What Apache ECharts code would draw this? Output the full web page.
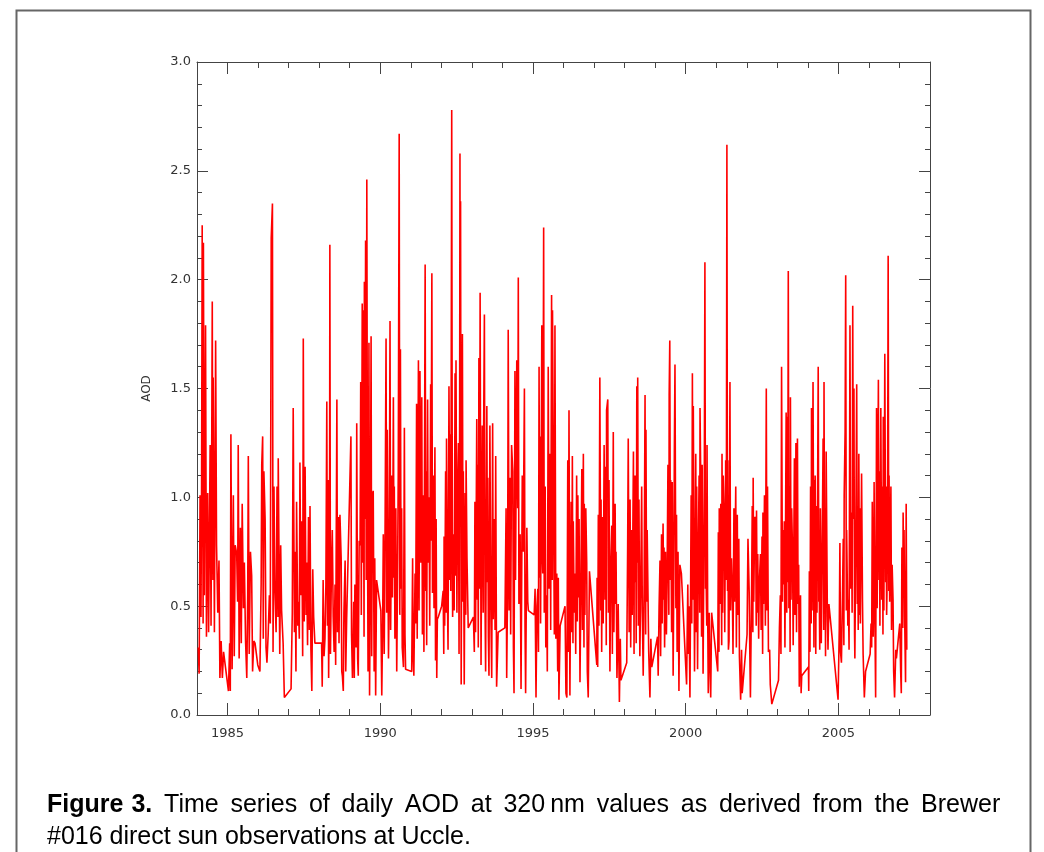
<!DOCTYPE html>
<html>
<head>
<meta charset="utf-8">
<script src="https://cdn.jsdelivr.net/npm/echarts@6/dist/echarts.min.js"></script>
<style>html,body{margin:0;padding:0;background:#fff;}#chart{width:1044px;height:852px;}</style>
</head>
<body>
<div id="chart"></div>
<script>
// Daily AOD at 320 nm, Brewer #016, Uccle: [decimal year, AOD]
const obs1984_1987 = [
[1984.04,0.31],[1984.07,0.19],[1984.10,1.01],[1984.13,0.45],[1984.15,1.05],[1984.17,2.25],[1984.20,0.42],[1984.21,2.17],[1984.24,0.55],[1984.28,1.79],[1984.31,0.36],[1984.35,1.02],[1984.38,0.38],[1984.43,1.24],[1984.46,0.41],[1984.50,1.90],[1984.52,0.62],[1984.53,1.55],[1984.57,0.38],[1984.61,1.72],[1984.64,0.78],[1984.68,0.47],[1984.72,0.71],[1984.75,0.17],[1984.79,0.34],[1984.83,0.17],[1984.87,0.29],
[1985.03,0.11],[1985.07,0.33],[1985.09,0.11],[1985.11,1.29],[1985.15,0.21],[1985.19,1.01],[1985.22,0.27],[1985.25,0.78],[1985.30,0.74],[1985.33,0.52],[1985.35,1.24],[1985.38,0.26],[1985.42,0.86],[1985.45,0.33],[1985.48,0.97],[1985.52,0.49],[1985.55,0.7],[1985.59,0.34],[1985.63,0.17],[1985.66,0.55],[1985.68,1.19],[1985.71,0.28],[1985.75,0.75],[1985.79,0.64],[1985.82,0.2],[1985.86,0.34],[1985.90,0.33],[1985.99,0.23],
[1986.06,0.2],[1986.10,0.6],[1986.12,1.15],[1986.15,1.28],[1986.17,0.35],[1986.19,1.12],[1986.23,0.9],[1986.26,0.31],[1986.29,0.24],[1986.33,0.37],[1986.37,0.55],[1986.40,0.42],[1986.43,2.19],[1986.47,2.35],[1986.49,0.29],[1986.52,1.05],[1986.55,0.58],[1986.59,0.38],[1986.62,1.05],[1986.65,0.45],[1986.66,1.18],[1986.71,0.28],[1986.74,0.78],[1986.77,0.48],[1986.82,0.33],[1986.86,0.08],
[1987.08,0.12],[1987.12,0.47],[1987.15,1.41],[1987.19,0.38],[1987.21,0.75],[1987.24,0.2],[1987.26,0.98],[1987.30,0.41],[1987.32,0.52],[1987.35,0.35],[1987.37,1.16],[1987.40,0.55],[1987.43,0.89],[1987.46,0.27],[1987.48,1.73],[1987.51,0.43],[1987.54,1.14],[1987.57,0.46],[1987.59,0.7],[1987.62,0.32],[1987.65,0.91],[1987.68,0.39],[1987.70,0.96],[1987.73,0.3],[1987.76,0.11],[1987.79,0.67],[1987.82,0.45],[1987.86,0.33]
];
const obs1988_1991 = [
[1988.08,0.33],[1988.10,0.13],[1988.13,0.62],[1988.16,0.27],[1988.19,0.35],[1988.22,0.6],[1988.25,1.44],[1988.27,0.41],[1988.29,1.08],[1988.31,0.17],[1988.34,0.7],[1988.35,2.16],[1988.37,0.28],[1988.40,0.65],[1988.43,0.85],[1988.46,0.45],[1988.49,0.29],[1988.52,0.6],[1988.54,0.23],[1988.58,1.45],[1988.60,0.38],[1988.63,0.91],[1988.65,0.33],[1988.68,0.92],[1988.72,0.72],[1988.74,0.2],[1988.76,0.18],[1988.79,0.11],[1988.81,0.47],[1988.85,0.71],[1988.87,0.2],[1988.90,0.44],
[1989.04,1.28],[1989.06,0.37],[1989.09,0.17],[1989.13,0.52],[1989.15,0.17],[1989.17,0.6],[1989.21,0.31],[1989.23,1.34],[1989.26,0.26],[1989.28,0.18],[1989.31,0.8],[1989.34,0.78],[1989.36,1.53],[1989.38,0.46],[1989.41,1.89],[1989.43,0.7],[1989.44,1.86],[1989.47,0.36],[1989.48,1.99],[1989.50,0.9],[1989.52,2.18],[1989.54,0.62],[1989.56,2.46],[1989.58,1.0],[1989.60,0.2],[1989.63,1.71],[1989.65,0.09],[1989.67,0.53],[1989.70,1.74],[1989.72,0.27],[1989.74,1.0],[1989.77,1.03],[1989.80,0.2],[1989.82,0.72],[1989.85,0.09],[1989.88,0.62],
[1990.02,0.48],[1990.05,0.09],[1990.08,0.44],[1990.10,0.83],[1990.13,0.28],[1990.16,0.91],[1990.19,1.73],[1990.21,0.47],[1990.23,1.31],[1990.27,0.26],[1990.29,0.52],[1990.32,1.81],[1990.34,0.39],[1990.38,1.1],[1990.40,0.54],[1990.43,1.46],[1990.45,0.63],[1990.46,1.05],[1990.48,0.35],[1990.51,0.95],[1990.54,0.2],[1990.57,0.7],[1990.59,1.12],[1990.62,2.67],[1990.64,0.46],[1990.66,1.68],[1990.68,0.58],[1990.70,0.95],[1990.72,0.31],[1990.76,0.22],[1990.79,1.32],[1990.81,0.37],[1990.83,0.21],
[1991.03,0.2],[1991.06,0.72],[1991.08,0.27],[1991.10,0.18],[1991.14,0.65],[1991.16,0.42],[1991.19,1.43],[1991.21,0.35],[1991.25,1.63],[1991.27,0.48],[1991.30,1.58],[1991.33,0.7],[1991.36,1.46],[1991.38,0.37],[1991.41,1.01],[1991.43,0.29],[1991.47,2.07],[1991.49,0.57],[1991.50,1.12],[1991.52,0.32],[1991.55,1.45],[1991.57,0.7],[1991.60,1.0],[1991.62,0.41],[1991.65,1.52],[1991.66,0.8],[1991.69,2.03],[1991.71,0.56],[1991.74,1.1],[1991.76,0.49],[1991.79,1.23],[1991.81,0.25],[1991.83,0.9],[1991.85,0.17],[1991.87,0.44],[1991.90,0.45]
];
const obs1992_1995 = [
[1992.01,0.5],[1992.06,0.57],[1992.08,0.28],[1992.09,0.82],[1992.11,0.41],[1992.14,1.12],[1992.16,0.47],[1992.17,1.27],[1992.20,0.53],[1992.22,0.3],[1992.25,1.51],[1992.28,0.62],[1992.29,1.29],[1992.31,0.57],[1992.34,2.78],[1992.36,0.8],[1992.37,0.45],[1992.40,0.83],[1992.42,0.48],[1992.45,1.57],[1992.47,0.64],[1992.48,1.63],[1992.51,0.47],[1992.53,1.0],[1992.56,1.25],[1992.58,0.28],[1992.60,1.4],[1992.61,2.58],[1992.62,0.9],[1992.63,2.36],[1992.65,0.14],[1992.69,1.75],[1992.71,0.52],[1992.72,1.12],[1992.75,0.14],[1992.78,1.02],[1992.80,0.46],[1992.81,1.17],[1992.84,0.72],[1992.88,0.4],
[1993.05,0.45],[1993.08,0.29],[1993.10,0.98],[1993.12,0.38],[1993.16,1.36],[1993.18,0.53],[1993.19,1.15],[1993.21,0.31],[1993.23,1.64],[1993.25,0.58],[1993.27,1.94],[1993.30,0.23],[1993.32,0.8],[1993.34,1.33],[1993.37,0.47],[1993.38,1.2],[1993.41,1.84],[1993.43,0.52],[1993.45,0.2],[1993.49,1.42],[1993.51,0.61],[1993.52,1.09],[1993.54,0.36],[1993.56,0.18],[1993.59,1.33],[1993.62,0.49],[1993.65,0.17],[1993.68,1.34],[1993.70,0.44],[1993.73,0.9],[1993.76,0.39],[1993.78,1.19],[1993.81,0.13],[1993.86,0.38],
[1994.08,0.4],[1994.12,0.95],[1994.14,0.17],[1994.17,0.6],[1994.19,1.77],[1994.22,0.48],[1994.25,1.09],[1994.27,0.37],[1994.30,1.24],[1994.34,1.12],[1994.36,0.31],[1994.38,0.1],[1994.41,1.58],[1994.43,0.62],[1994.47,1.63],[1994.50,0.95],[1994.52,2.01],[1994.54,0.51],[1994.58,0.83],[1994.61,0.12],[1994.63,0.6],[1994.65,1.1],[1994.68,0.75],[1994.72,1.5],[1994.74,0.41],[1994.76,0.1],[1994.80,0.86],[1994.83,0.52],[1994.85,0.48],
[1995.04,0.46],[1995.07,0.58],[1995.10,0.08],[1995.13,0.5],[1995.16,0.58],[1995.18,0.29],[1995.20,1.6],[1995.22,0.63],[1995.23,1.28],[1995.25,0.42],[1995.29,1.79],[1995.31,0.7],[1995.32,0.65],[1995.35,2.24],[1995.37,0.47],[1995.40,1.05],[1995.42,0.31],[1995.45,0.55],[1995.47,0.2],[1995.50,1.6],[1995.53,0.58],[1995.56,1.2],[1995.58,0.39],[1995.61,1.93],[1995.63,0.62],[1995.64,1.86],[1995.68,0.82],[1995.70,0.37],[1995.72,1.79],[1995.75,0.35],[1995.78,0.65],[1995.81,0.2],[1995.83,0.63],[1995.85,0.07],[1995.89,0.41]
];
const obs1996_1999 = [
[1996.05,0.5],[1996.08,0.1],[1996.11,0.08],[1996.14,1.17],[1996.16,0.29],[1996.18,1.4],[1996.20,0.52],[1996.21,0.09],[1996.25,0.98],[1996.27,0.38],[1996.29,1.19],[1996.31,0.33],[1996.32,0.89],[1996.35,0.47],[1996.38,0.65],[1996.40,0.28],[1996.43,1.1],[1996.45,0.43],[1996.47,1.01],[1996.49,0.54],[1996.51,0.9],[1996.54,0.15],[1996.57,0.6],[1996.60,1.13],[1996.62,0.39],[1996.65,1.2],[1996.67,0.31],[1996.68,0.97],[1996.70,0.46],[1996.73,0.95],[1996.76,0.7],[1996.78,0.2],[1996.81,0.08],[1996.85,0.66],
[1997.09,0.23],[1997.10,0.63],[1997.12,0.22],[1997.14,0.92],[1997.16,0.41],[1997.19,1.55],[1997.22,0.48],[1997.23,0.99],[1997.25,0.29],[1997.27,0.91],[1997.30,0.42],[1997.33,1.24],[1997.36,0.53],[1997.38,1.14],[1997.40,0.32],[1997.41,1.4],[1997.45,1.45],[1997.47,0.47],[1997.49,1.08],[1997.52,0.2],[1997.55,0.7],[1997.58,0.87],[1997.60,0.28],[1997.63,1.3],[1997.65,0.38],[1997.69,0.97],[1997.71,0.51],[1997.72,0.75],[1997.75,0.17],[1997.78,0.4],[1997.79,0.51],[1997.83,0.06],[1997.86,0.35],[1997.88,0.16],
[1998.07,0.24],[1998.10,0.77],[1998.12,1.27],[1998.15,0.38],[1998.18,0.99],[1998.20,0.31],[1998.23,0.85],[1998.25,0.46],[1998.29,1.21],[1998.31,0.28],[1998.32,1.1],[1998.34,0.61],[1998.36,1.1],[1998.38,0.33],[1998.40,1.51],[1998.42,0.7],[1998.43,1.55],[1998.45,0.41],[1998.47,0.99],[1998.50,0.27],[1998.53,0.6],[1998.56,1.05],[1998.58,0.48],[1998.61,0.18],[1998.64,0.6],[1998.67,1.47],[1998.69,0.37],[1998.70,1.31],[1998.72,0.52],[1998.74,0.85],[1998.77,0.85],[1998.79,0.29],[1998.83,0.08],[1998.86,0.35],[1998.89,0.22],
[1999.08,0.36],[1999.10,0.18],[1999.13,0.5],[1999.16,0.71],[1999.18,0.27],[1999.21,0.83],[1999.23,0.42],[1999.26,0.88],[1999.28,0.53],[1999.29,0.77],[1999.31,0.31],[1999.34,0.75],[1999.37,0.37],[1999.39,0.6],[1999.42,1.15],[1999.45,0.46],[1999.46,1.47],[1999.48,1.72],[1999.50,0.62],[1999.51,1.08],[1999.54,0.38],[1999.56,1.07],[1999.59,0.18],[1999.61,0.6],[1999.63,1.21],[1999.65,1.61],[1999.68,0.49],[1999.70,0.92],[1999.72,0.29],[1999.75,0.75],[1999.78,0.11],[1999.81,0.69],[1999.86,0.65]
];
const obs2000_2003 = [
[2000.03,0.14],[2000.07,0.6],[2000.09,0.28],[2000.11,0.5],[2000.14,0.08],[2000.18,1.01],[2000.20,0.42],[2000.22,1.57],[2000.24,0.53],[2000.25,1.42],[2000.29,0.2],[2000.31,0.6],[2000.33,1.2],[2000.35,0.38],[2000.36,1.05],[2000.39,0.21],[2000.41,0.7],[2000.44,1.1],[2000.46,0.47],[2000.47,1.41],[2000.50,1.0],[2000.52,0.36],[2000.54,1.15],[2000.57,0.19],[2000.61,1.05],[2000.63,2.08],[2000.65,0.58],[2000.66,0.73],[2000.69,0.41],[2000.70,1.24],[2000.72,0.49],[2000.74,0.1],[2000.77,0.47],[2000.80,0.2],[2000.82,0.08],[2000.85,0.47],
[2001.05,0.2],[2001.07,0.84],[2001.09,0.29],[2001.10,0.95],[2001.12,0.51],[2001.15,0.97],[2001.18,0.32],[2001.19,1.2],[2001.21,0.47],[2001.23,1.1],[2001.26,0.91],[2001.28,0.38],[2001.31,1.17],[2001.33,0.62],[2001.35,2.62],[2001.37,0.57],[2001.38,1.17],[2001.40,0.3],[2001.42,0.34],[2001.45,1.53],[2001.47,0.48],[2001.50,0.72],[2001.53,0.55],[2001.55,0.28],[2001.58,0.95],[2001.60,0.52],[2001.64,1.05],[2001.66,0.31],[2001.69,0.92],[2001.71,0.46],[2001.74,0.81],[2001.76,0.27],[2001.80,0.07],[2001.83,0.3],[2001.85,0.1],
[2002.01,0.37],[2002.04,0.81],[2002.08,0.56],[2002.10,0.29],[2002.12,0.08],[2002.16,0.6],[2002.18,0.96],[2002.20,0.38],[2002.21,1.09],[2002.23,0.52],[2002.26,0.91],[2002.29,0.9],[2002.31,0.41],[2002.32,0.94],[2002.34,0.47],[2002.36,0.74],[2002.39,0.35],[2002.41,0.6],[2002.45,0.74],[2002.47,0.39],[2002.50,0.82],[2002.52,0.28],[2002.53,0.93],[2002.55,0.51],[2002.58,1.01],[2002.61,0.41],[2002.64,1.5],[2002.66,0.48],[2002.68,1.05],[2002.71,0.29],[2002.75,0.3],[2002.77,0.14],[2002.82,0.05],
[2003.04,0.16],[2003.07,0.4],[2003.10,0.55],[2003.12,0.28],[2003.14,1.6],[2003.17,0.52],[2003.18,0.85],[2003.21,0.6],[2003.23,0.89],[2003.25,0.31],[2003.29,1.39],[2003.31,0.47],[2003.32,1.37],[2003.34,0.61],[2003.36,2.04],[2003.38,0.49],[2003.40,1.05],[2003.42,0.29],[2003.43,1.46],[2003.45,0.53],[2003.47,0.95],[2003.50,0.75],[2003.52,0.32],[2003.56,1.18],[2003.58,0.46],[2003.61,1.25],[2003.63,0.38],[2003.66,1.27],[2003.68,0.51],[2003.70,0.69],[2003.72,0.13],[2003.76,0.55],[2003.78,0.1],[2003.80,0.18]
];
const obs2004_2007 = [
[2004.02,0.22],[2004.03,0.11],[2004.05,0.66],[2004.07,0.29],[2004.09,1.05],[2004.11,0.42],[2004.12,1.41],[2004.14,0.48],[2004.17,1.53],[2004.20,0.31],[2004.21,1.08],[2004.23,0.53],[2004.24,1.1],[2004.26,0.28],[2004.28,0.96],[2004.30,0.47],[2004.34,1.6],[2004.36,0.52],[2004.37,0.65],[2004.39,0.3],[2004.41,0.95],[2004.44,0.33],[2004.48,0.93],[2004.50,1.27],[2004.52,0.39],[2004.53,1.53],[2004.55,0.49],[2004.56,0.87],[2004.58,0.27],[2004.60,1.21],[2004.64,0.45],[2004.66,0.3],[2004.69,0.51],
[2004.99,0.07],[2005.03,0.4],[2005.05,0.79],[2005.07,0.29],[2005.10,0.24],[2005.14,0.6],[2005.16,0.81],[2005.18,0.32],[2005.19,1.01],[2005.22,1.3],[2005.24,2.02],[2005.26,0.48],[2005.27,0.85],[2005.31,0.41],[2005.33,0.53],[2005.35,0.3],[2005.38,1.79],[2005.40,0.58],[2005.43,0.93],[2005.45,0.47],[2005.47,1.88],[2005.49,0.9],[2005.51,1.5],[2005.53,0.37],[2005.54,0.26],[2005.57,0.8],[2005.60,1.52],[2005.62,0.51],[2005.63,0.95],[2005.65,0.39],[2005.67,1.2],[2005.69,0.46],[2005.70,0.95],[2005.72,0.42],[2005.76,1.11],[2005.79,0.52],[2005.81,0.28],[2005.85,0.08],[2005.89,0.2],
[2006.04,0.28],[2006.07,0.42],[2006.09,0.31],[2006.11,0.98],[2006.14,0.36],[2006.16,0.6],[2006.17,1.07],[2006.20,0.38],[2006.22,0.08],[2006.25,1.41],[2006.27,0.49],[2006.31,1.54],[2006.33,0.62],[2006.34,1.12],[2006.36,0.41],[2006.39,1.41],[2006.42,0.53],[2006.44,1.05],[2006.46,0.37],[2006.47,1.37],[2006.49,0.48],[2006.52,1.66],[2006.55,0.61],[2006.56,1.05],[2006.58,0.46],[2006.59,0.55],[2006.61,0.9],[2006.63,2.11],[2006.65,0.57],[2006.66,1.1],[2006.68,0.52],[2006.72,1.05],[2006.74,0.39],[2006.76,0.69],[2006.79,0.53],[2006.81,0.2],[2006.84,0.08],[2006.88,0.3],[2006.90,0.26],
[2007.01,0.42],[2007.04,0.2],[2007.06,0.1],[2007.08,0.77],[2007.11,0.4],[2007.12,0.93],[2007.14,0.6],[2007.15,0.85],[2007.17,0.45],[2007.20,0.15],[2007.22,0.97],[2007.24,0.3]
];

const yearCategories = [];
for (let y = 1984; y <= 2008; y++) yearCategories.push(String(y));
const majorYearStep = 5;
const captionBoldWords = ['Figure', '3.'];
const captionLine1Words = ['Time', 'series', 'of', 'daily', 'AOD', 'at', '320\u2009nm', 'values', 'as', 'derived', 'from', 'the', 'Brewer'];
const captionLine2 = '#016 direct sun observations at Uccle.';
const yAxisName = 'AOD';

const aodSeries = [].concat(obs1984_1987, obs1988_1991, obs1992_1995, obs1996_1999, obs2000_2003, obs2004_2007);

// justified first caption line: words joined by wider space tokens
const captionText =
  captionBoldWords.map(w => '{b|' + w + '}').join('{bs| }') + '{s| }' +
  captionLine1Words.join('{s| }') + '\n' + captionLine2;

const axisColor = '#444';
const labelFont = { fontFamily: 'DejaVu Sans', fontSize: 13, color: '#333' };
const isMajor = (i, v) => (+v) % majorYearStep === 0;

function valueX(pos, showLabels) {
  return {
    type: 'value', position: pos, min: 1984, max: 2008, interval: 1,
    axisLine: { show: true, lineStyle: { color: axisColor, width: 1 } },
    axisTick: { show: true, inside: true, length: 6, lineStyle: { color: axisColor } },
    axisLabel: showLabels ? Object.assign({ show: true, margin: 12, formatter: v => (v % majorYearStep === 0 ? String(v) : '') }, labelFont) : { show: false },
    splitLine: { show: false }
  };
}
function majorX(pos) {
  return {
    type: 'category', position: pos, data: yearCategories, boundaryGap: false,
    axisLine: { show: false },
    axisTick: { show: true, inside: true, length: 12, interval: isMajor, lineStyle: { color: axisColor } },
    axisLabel: { show: false },
    splitLine: { show: false }
  };
}
function valueY(pos, showLabels) {
  return {
    type: 'value', position: pos, min: 0, max: 3, interval: 0.5,
    name: showLabels ? yAxisName : '', nameLocation: 'middle', nameGap: 44,
    nameTextStyle: { fontFamily: 'DejaVu Sans', fontSize: 12, color: '#333' },
    axisLine: { show: true, lineStyle: { color: axisColor, width: 1 } },
    axisTick: { show: true, inside: true, length: 11, lineStyle: { color: axisColor } },
    minorTick: { show: true, splitNumber: 5, length: 5, lineStyle: { color: axisColor } },
    axisLabel: showLabels ? Object.assign({ show: true, margin: 6, formatter: v => v.toFixed(1) }, labelFont) : { show: false },
    splitLine: { show: false }, minorSplitLine: { show: false }
  };
}

const capFont = { fontFamily: 'Liberation Sans', fontSize: 25, color: '#000', lineHeight: 32 };
const chart = echarts.init(document.getElementById('chart'), null, { renderer: 'canvas' });
chart.setOption({
  animation: false,
  backgroundColor: '#fff',
  title: {
    text: captionText,
    left: 42, top: 784,
    textStyle: Object.assign({ fontWeight: 'normal', rich: {
      b: Object.assign({ fontWeight: 'bold' }, capFont),
      bs: Object.assign({ fontWeight: 'bold', width: 8 }, capFont),
      s: Object.assign({ fontWeight: 'normal', width: 11.8 }, capFont)
    } }, capFont)
  },
  graphic: [{
    type: 'rect', silent: true,
    shape: { x: 16.5, y: 10.5, width: 1014, height: 900 },
    style: { fill: 'none', stroke: '#666', lineWidth: 2 }
  }],
  grid: { left: 197, right: 114, top: 62, bottom: 137, containLabel: false },
  xAxis: [valueX('bottom', true), majorX('bottom'), valueX('top', false), majorX('top')],
  yAxis: [valueY('left', true), valueY('right', false)],
  series: [{
    type: 'line', xAxisIndex: 0, yAxisIndex: 0,
    data: aodSeries, showSymbol: false, symbol: 'none', sampling: null,
    lineStyle: { color: '#ff0000', width: 1.6 },
    clip: true
  }]
});
</script>
</body>
</html>
